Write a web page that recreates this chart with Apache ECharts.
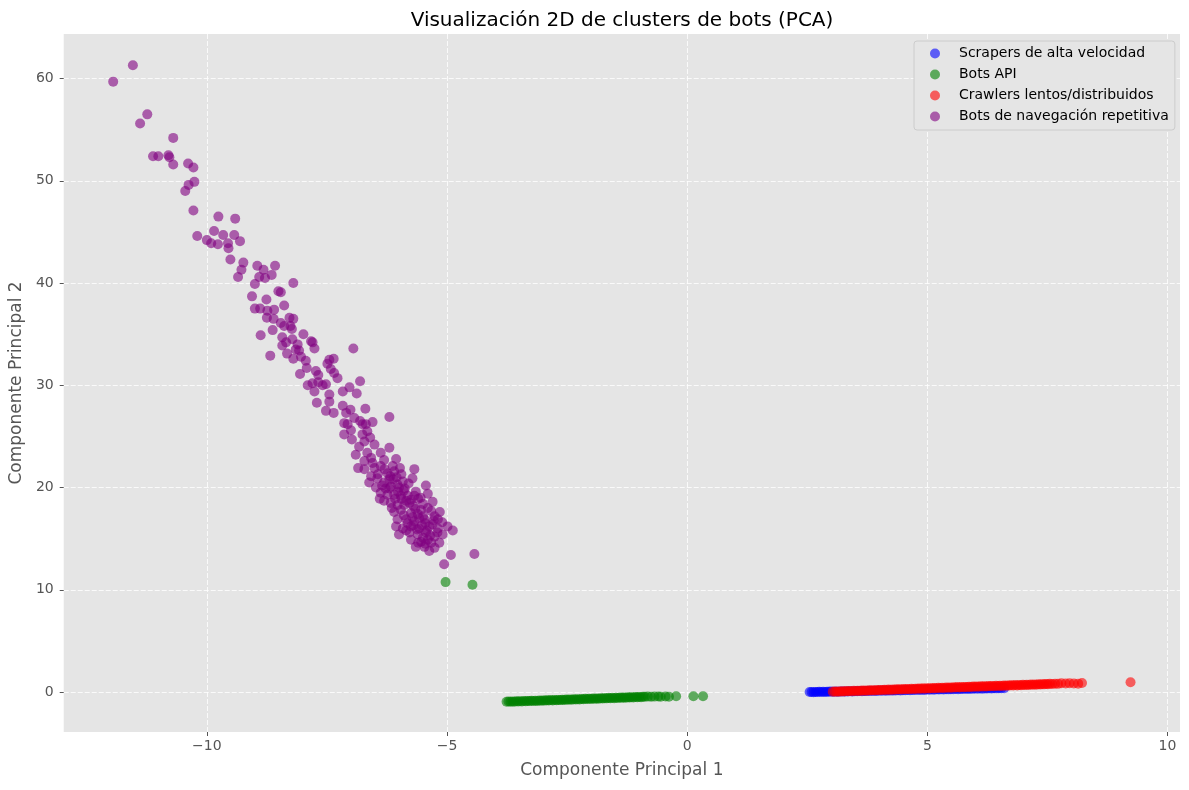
<!DOCTYPE html>
<html>
<head>
<meta charset="utf-8">
<script src="https://cdn.jsdelivr.net/npm/echarts@6/dist/echarts.min.js"></script>
<style>html,body{margin:0;padding:0;background:#fff}#c{width:1189px;height:790px}</style>
</head>
<body>
<div id="c"></div>
<script>
const seriesNames = ['Scrapers de alta velocidad', 'Bots API', 'Crawlers lentos/distribuidos', 'Bots de navegación repetitiva'];
const seriesColors = ['blue', 'green', 'red', 'purple'];
const xTicks = [-10, -5, 0, 5, 10];
const yTicks = [0, 10, 20, 30, 40, 50, 60];

const scrapers = [[2.55,0.00],[2.59,0.01],[2.63,-0.01],[2.67,0.01],[2.71,0.00],[2.75,0.02],[2.79,0.00],[2.83,0.02],[2.87,0.01],[2.91,0.03],[2.95,0.02],[2.99,0.04],[3.04,0.02],[3.09,0.04],[3.14,0.03],[3.19,0.06],[3.24,0.04],[3.29,0.06],[3.34,0.05],[3.39,0.08],[3.44,0.06],[3.49,0.08],[3.54,0.07],[3.59,0.10],[3.64,0.08],[3.69,0.10],[3.74,0.09],[3.79,0.12],[3.84,0.10],[3.89,0.12],[3.94,0.11],[3.99,0.14],[4.04,0.12],[4.09,0.14],[4.14,0.13],[4.19,0.16],[4.24,0.14],[4.29,0.16],[4.34,0.15],[4.39,0.18],[4.44,0.16],[4.49,0.18],[4.54,0.17],[4.59,0.20],[4.64,0.18],[4.69,0.20],[4.74,0.19],[4.79,0.22],[4.84,0.20],[4.89,0.22],[4.94,0.21],[4.99,0.24],[5.04,0.22],[5.09,0.24],[5.14,0.23],[5.19,0.26],[5.24,0.24],[5.29,0.26],[5.34,0.25],[5.39,0.28],[5.44,0.26],[5.49,0.28],[5.54,0.27],[5.59,0.30],[5.64,0.28],[5.69,0.30],[5.74,0.29],[5.79,0.32],[5.84,0.30],[5.89,0.32],[5.94,0.31],[5.99,0.34],[6.04,0.32],[6.09,0.34],[6.14,0.33],[6.19,0.35],[6.24,0.34],[6.29,0.36],[6.34,0.35],[6.39,0.37],[6.44,0.36],[6.49,0.38],[6.54,0.37],[6.60,0.38]];

const botsApi = [[-3.76,-0.95],[-3.72,-0.93],[-3.68,-0.96],[-3.64,-0.92],[-3.60,-0.94],[-3.56,-0.91],[-3.52,-0.93],[-3.48,-0.90],[-3.44,-0.92],[-3.40,-0.88],[-3.36,-0.91],[-3.32,-0.87],[-3.28,-0.89],[-3.24,-0.86],[-3.20,-0.88],[-3.16,-0.85],[-3.12,-0.87],[-3.08,-0.83],[-3.04,-0.86],[-3.00,-0.82],[-2.96,-0.84],[-2.92,-0.81],[-2.88,-0.83],[-2.84,-0.79],[-2.80,-0.82],[-2.76,-0.78],[-2.72,-0.80],[-2.68,-0.77],[-2.64,-0.79],[-2.60,-0.75],[-2.56,-0.78],[-2.52,-0.74],[-2.48,-0.76],[-2.44,-0.72],[-2.40,-0.75],[-2.36,-0.71],[-2.32,-0.73],[-2.28,-0.70],[-2.24,-0.72],[-2.20,-0.68],[-2.16,-0.71],[-2.12,-0.67],[-2.08,-0.69],[-2.04,-0.66],[-2.00,-0.68],[-1.96,-0.64],[-1.92,-0.67],[-1.88,-0.63],[-1.84,-0.65],[-1.80,-0.61],[-1.76,-0.64],[-1.72,-0.60],[-1.68,-0.62],[-1.64,-0.59],[-1.60,-0.61],[-1.56,-0.57],[-1.52,-0.60],[-1.48,-0.56],[-1.44,-0.58],[-1.40,-0.54],[-1.36,-0.57],[-1.32,-0.53],[-1.28,-0.55],[-1.24,-0.52],[-1.20,-0.54],[-1.16,-0.50],[-1.12,-0.53],[-1.08,-0.49],[-1.04,-0.51],[-1.00,-0.48],[-0.96,-0.50],[-0.92,-0.46],[-0.88,-0.47],[-0.82,-0.45],[-0.75,-0.47],[-0.68,-0.45],[-0.60,-0.44],[-0.55,-0.46],[-0.45,-0.43],[-0.38,-0.46],[-0.23,-0.41],[0.13,-0.42],[0.33,-0.42],[-5.03,10.75],[-4.47,10.5]];

const crawlers = [[3.03,0.03],[3.07,0.05],[3.11,0.02],[3.15,0.06],[3.19,0.04],[3.23,0.08],[3.27,0.05],[3.31,0.09],[3.35,0.07],[3.39,0.10],[3.43,0.08],[3.47,0.12],[3.51,0.09],[3.55,0.13],[3.59,0.11],[3.63,0.14],[3.67,0.12],[3.71,0.16],[3.75,0.13],[3.79,0.17],[3.83,0.15],[3.87,0.18],[3.91,0.16],[3.95,0.20],[3.99,0.17],[4.03,0.21],[4.07,0.19],[4.11,0.22],[4.15,0.20],[4.19,0.24],[4.23,0.21],[4.27,0.25],[4.31,0.23],[4.35,0.26],[4.39,0.24],[4.43,0.28],[4.47,0.25],[4.51,0.29],[4.55,0.27],[4.59,0.30],[4.63,0.28],[4.67,0.32],[4.71,0.29],[4.75,0.33],[4.79,0.31],[4.83,0.34],[4.87,0.32],[4.91,0.36],[4.95,0.33],[4.99,0.37],[5.03,0.35],[5.07,0.38],[5.11,0.36],[5.15,0.40],[5.19,0.37],[5.23,0.41],[5.27,0.39],[5.31,0.42],[5.35,0.40],[5.39,0.44],[5.43,0.41],[5.47,0.45],[5.51,0.43],[5.55,0.46],[5.59,0.44],[5.63,0.48],[5.67,0.45],[5.71,0.49],[5.75,0.47],[5.79,0.50],[5.83,0.48],[5.87,0.52],[5.91,0.49],[5.95,0.53],[5.99,0.51],[6.03,0.54],[6.07,0.52],[6.11,0.56],[6.15,0.53],[6.19,0.57],[6.23,0.55],[6.27,0.58],[6.31,0.56],[6.35,0.60],[6.39,0.57],[6.43,0.61],[6.47,0.59],[6.51,0.62],[6.55,0.60],[6.59,0.64],[6.63,0.61],[6.67,0.65],[6.71,0.63],[6.75,0.66],[6.79,0.64],[6.83,0.68],[6.87,0.65],[6.91,0.69],[6.95,0.67],[6.99,0.70],[7.03,0.68],[7.07,0.72],[7.11,0.69],[7.15,0.73],[7.19,0.71],[7.23,0.74],[7.27,0.72],[7.31,0.76],[7.35,0.73],[7.39,0.77],[7.43,0.75],[7.47,0.78],[7.51,0.76],[7.55,0.80],[7.60,0.78],[7.66,0.81],[7.72,0.80],[7.79,0.85],[7.88,0.83],[7.96,0.86],[8.05,0.84],[8.14,0.82],[8.22,0.88],[9.23,0.95]];

const navegacion = [
[-11.54,61.3],[-11.95,59.7],[-11.24,56.5],[-11.39,55.6],[-10.7,54.2],[-11.12,52.4],[-11.01,52.4],[-10.8,52.5],[-10.78,52.3],[-10.7,51.6],[-10.39,51.7],[-10.28,51.3],[-10.26,49.9],[-10.38,49.6],[-10.45,49.0],[-10.28,47.1],[-9.76,46.5],[-9.41,46.3],[-10.2,44.6],[-9.85,45.1],[-10.0,44.2],[-9.91,43.9],[-9.77,43.8],[-9.66,44.7],[-9.43,44.7],[-9.56,43.9],[-9.55,43.4],[-9.31,44.1],[-9.51,42.3],[-9.24,42.0],[-9.28,41.3],[-8.95,41.7],[-8.82,41.3],[-8.58,41.7],[-9.35,40.6],[-8.91,40.6],[-8.65,40.8],
[-8.79,40.5],[-9.0,39.9],[-8.2,40.0],[-8.51,39.2],[-8.46,39.1],[-9.06,38.7],[-8.76,38.4],[-8.39,37.8],[-9.0,37.5],[-8.89,37.5],[-8.74,37.3],[-8.6,37.4],[-8.75,36.6],[-8.61,36.5],[-8.46,36.1],[-8.28,36.6],[-8.2,36.5],[-8.39,35.8],[-8.26,35.8],[-8.63,35.4],[-8.23,35.5],[-8.88,34.9],[-7.99,35.0],[-8.43,34.7],[-8.22,34.5],[-8.11,34.0],[-7.83,34.3],[-7.8,34.2],[-8.43,33.9],[-8.35,34.2],[-8.15,33.5],[-8.08,33.4],[-7.76,33.6],[-6.95,33.6],[-8.33,33.1],[-8.68,32.9],[-8.2,32.6],[-8.04,32.8],[-7.94,32.4],[-7.45,32.5],[-7.36,32.6],[-7.49,32.1],[-7.92,31.7],[-7.42,31.6],[-7.73,31.4],[-7.35,31.2],[-8.06,31.1],[-7.68,31.0],[-7.28,30.7],[-6.81,30.4],[-7.9,30.0],[-7.8,30.2],[-7.68,30.3],[-7.59,30.0],[-7.52,30.1],[-7.76,29.4],[-7.17,29.4],[-7.03,29.8],[-6.88,29.2],[-7.45,29.1],[-7.45,28.4],[-7.71,28.3],[-7.17,28.0],[-7.01,27.6],[-6.7,27.7],[-7.52,27.5],[-7.36,27.3],[-7.1,27.3],[-6.2,26.9],[-6.93,26.8],[-6.81,26.5],[-7.14,26.3],[-7.07,26.2],[-6.69,26.2],[-6.55,26.4],
[-6.76,26.2],[-7.14,25.2],[-6.98,24.7],[-6.76,25.2],[-6.66,25.5],[-6.83,24.0],[-6.72,24.5],[-6.51,24.2],[-6.2,23.9],[-6.38,23.4],[-6.66,23.4],[-6.58,22.9],[-6.72,22.6],[-6.31,22.7],[-6.06,22.8],[-6.85,21.9],[-6.72,21.8],[-6.51,21.9],[-6.38,22.1],[-6.13,22.1],[-5.68,21.8],[-6.58,21.1],[-6.44,21.3],[-6.24,21.4],[-6.1,21.6],[-5.92,20.6],[-5.72,20.9],[-5.44,20.2],[-5.4,19.4],[-6.62,20.5],[-6.48,20.0],[-6.31,20.5],[-6.17,20.1],[-6.03,20.3],[-6.38,19.5],[-6.24,19.3],[-6.1,19.3],[-5.96,19.2],[-5.82,19.2],[-5.75,18.8],[-6.31,18.7],[-6.17,18.5],[-6.03,18.3],[-5.89,18.3],[-5.96,17.8],[-5.54,17.8],[-5.33,17.7],[-5.4,18.0],[-5.75,17.5],[-5.61,17.4],[-5.26,17.2],[-5.19,16.9],[-6.03,16.9],[-5.85,16.9],[-5.68,16.7],[-5.47,16.9],[-4.99,16.2],[-4.88,15.8],[-6.06,16.2],[-5.92,16.0],[-5.75,16.2],[-5.58,16.0],[-5.37,16.2],[-5.19,16.0],[-6.0,15.4],[-5.78,15.6],[-5.61,15.4],[-5.44,15.6],[-5.26,15.2],[-5.09,15.4],[-5.75,14.9],[-5.54,14.7],[-5.33,14.6],[-5.16,14.6],[-5.65,14.2],[-5.47,14.2],[-5.37,13.8],[-5.26,14.1],[-4.92,13.4],[-4.43,13.5],[-5.06,12.5],
[-6.05,21.0],[-6.0,20.0],[-5.9,19.7],[-5.85,18.7],[-5.7,18.2],[-5.6,18.9],[-5.5,17.2],[-5.45,16.5],[-5.3,16.4],[-5.2,15.6],[-5.5,15.1],[-5.4,14.9],[-5.9,17.3],[-6.1,17.6],[-6.2,19.9],[-6.45,20.9],[-6.3,21.8],[-5.95,21.3],[-5.8,20.4],[-5.65,19.6],[-5.55,19.0],[-5.3,18.6],[-5.15,17.6],[-5.1,16.6],[-5.7,16.3],[-5.85,15.8],[-6.15,18.0],[-6.4,18.9],[-6.55,22.4],[-6.9,23.2],[-7.0,25.6],[-6.6,24.9],
[-6.12,20.8],[-6.02,19.6],[-5.95,18.9],[-5.88,19.9],[-5.78,18.5],[-5.66,17.9],[-5.58,17.0],[-5.52,16.3],[-5.42,15.8],[-5.35,15.3],[-5.62,15.9],[-5.72,17.1],[-5.82,16.5],[-6.08,18.9],[-6.2,20.8],[-6.28,19.9],[-5.98,21.9],[-5.5,18.4],[-5.28,16.8],[-5.45,14.5],[-5.6,14.6],[-6.18,21.1],[-6.35,20.2],[-5.68,19.2]
];

const allSeries = [scrapers, botsApi, crawlers, navegacion];
const textColor = '#555555';
const fontFamily = 'DejaVu Sans';

const chart = echarts.init(document.getElementById('c'), null, {renderer: 'canvas'});
chart.setOption({
  animation: false,
  backgroundColor: '#ffffff',
  title: {
    text: 'Visualización 2D de clusters de bots (PCA)',
    left: 617, top: 6, textAlign: 'center',
    textStyle: {fontFamily, fontSize: 20, fontWeight: 'normal', color: '#000000'}
  },
  legend: {
    orient: 'vertical',
    left: 914, top: 41,
    padding: [4, 6, 5, 16],
    itemWidth: 10, itemHeight: 10, itemGap: 4,
    icon: 'circle',
    backgroundColor: '#e5e5e5',
    borderColor: '#cccccc', borderWidth: 1, borderRadius: 3,
    textStyle: {fontFamily, fontSize: 14, color: '#000000', lineHeight: 17, padding: [0, 0, 0, 14]},
    data: seriesNames
  },
  grid: {left: 62, top: 34, right: 9, bottom: 58, show: true, backgroundColor: '#e5e5e5', borderWidth: 0},
  xAxis: {
    type: 'value', min: -12.98, max: 10.26,
    name: 'Componente Principal 1', nameLocation: 'middle', nameGap: 30,
    nameTextStyle: {fontFamily, fontSize: 17, color: textColor},
    axisLine: {show: false, onZero: false},
    axisTick: {show: true, length: 4, customValues: xTicks, lineStyle: {color: textColor, width: 1}},
    axisLabel: {customValues: xTicks, margin: 7, fontFamily, fontSize: 14, color: textColor,
      formatter: v => String(v).replace('-', '\u2212')},
    splitLine: {show: true, lineStyle: {color: 'rgba(255,255,255,0.8)', type: [5, 2], width: 1}}
  },
  yAxis: {
    type: 'value', min: -3.91, max: 64.36,
    name: 'Componente Principal 2', nameLocation: 'middle', nameGap: 34,
    nameTextStyle: {fontFamily, fontSize: 17, color: textColor},
    axisLine: {show: false, onZero: false},
    axisTick: {show: true, length: 4, customValues: yTicks, lineStyle: {color: textColor, width: 1}},
    axisLabel: {customValues: yTicks, margin: 10, fontFamily, fontSize: 14, color: textColor},
    splitLine: {show: true, lineStyle: {color: 'rgba(255,255,255,0.8)', type: [5, 2], width: 1}}
  },
  series: allSeries.map((d, i) => ({
    name: seriesNames[i],
    type: 'scatter',
    data: d,
    symbol: 'circle',
    symbolSize: 10,
    itemStyle: {color: seriesColors[i], opacity: 0.6},
    emphasis: {disabled: true}
  }))
});
</script>
</body>
</html>
